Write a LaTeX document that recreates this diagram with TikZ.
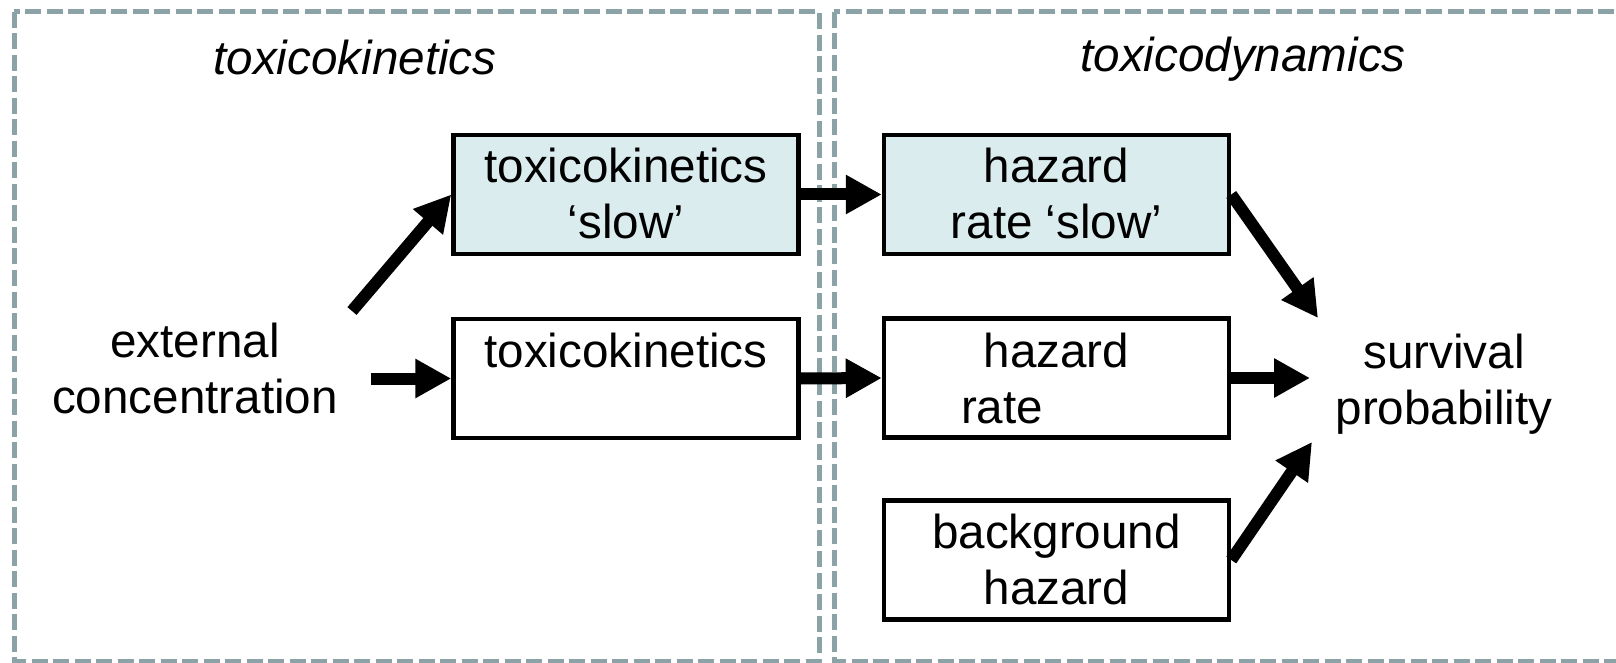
\documentclass[tikz,border=0pt]{standalone}
\usepackage{fontspec}
\setmainfont{Liberation Sans}
\usetikzlibrary{arrows.meta}
\definecolor{framegray}{RGB}{139,163,166}
\definecolor{slowfill}{RGB}{218,236,238}
\newcommand{\txt}{\fontsize{23.8pt}{28pt}\selectfont}
\begin{document}
\begin{tikzpicture}[x=0.5pt, y=-0.5pt,
  frame/.style={draw=framegray, line width=2.5pt, dash pattern=on 8pt off 2.75pt},
  box/.style={draw=black, line width=2.25pt, minimum width=172.5pt, minimum height=59.5pt,
    inner sep=0pt, align=center, font=\txt},
  slowbox/.style={box, fill=slowfill},
  plain/.style={inner sep=0pt, align=center, anchor=base, font=\txt},
  title/.style={inner sep=0pt, anchor=base, font=\txt\itshape},
  arr/.style={line width=6pt, -{Triangle[length=18pt,width=18.5pt]}}]
\useasboundingbox (0,0) rectangle (1616,663);
\clip (0,0) rectangle (1616,663);

% dashed frames of the two model parts
\draw[frame] (14,12) rectangle (819,661);
\draw[frame] (834,12) rectangle (1650,661);

\node[title] (tktitle) at (355,75) {toxicokinetics};
\node[title] (tdtitle) at (1243,72) {toxicodynamics};

% external input and output (anchored at the last baseline)
\node[plain] (ext) at (195,413) {external\\concentration};
\node[plain] (surv) at (1444,424) {survival\\probability};

% process boxes; text height/depth are measured from the last baseline
\node[slowbox, text height=50.5pt, text depth=6pt] (tkslow) at (626,194.5) {toxicokinetics\\‘slow’};
\node[box, text height=15pt, text depth=26.5pt] (tk) at (626,378.5) {toxicokinetics};
\node[slowbox, text height=50.5pt, text depth=6pt] (hzslow) at (1056.5,194.5) {hazard\\rate ‘slow’};
\node[box, text height=51pt, text depth=6pt] (hz) at (1056.5,378) {hazard\\\makebox[95.5pt][l]{rate}};
\node[box, text height=50pt, text depth=6pt] (bg) at (1056.5,560) {background\\hazard};

% free ends of the connectors
\coordinate (extup) at (352,311);
\coordinate (extmid) at (371,378.5);
\coordinate (s1) at (1318,318);
\coordinate (s2) at (1310,378);
\coordinate (s3) at (1312,442);

\draw[arr] (extup) -- (tkslow.west);
\draw[arr] (extmid) -- (tk.west);
\draw[arr] (tkslow.east) -- (hzslow.west);
\draw[arr] (tk.east) -- (hz.west);
\draw[arr] (hzslow.east) -- (s1);
\draw[arr] (hz.east) -- (s2);
\draw[arr] (bg.east) -- (s3);
\end{tikzpicture}
\end{document}
